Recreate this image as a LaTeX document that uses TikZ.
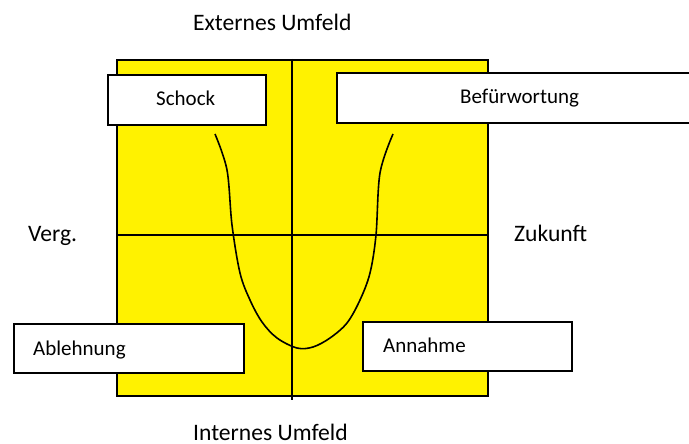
\documentclass[tikz,border=0pt]{standalone}
\usepackage{fontspec}
\setmainfont{Carlito}
\begin{document}
\begin{tikzpicture}[x=1pt,y=-1pt,
  lbl/.style={font=\fontsize{21}{25}\selectfont, inner sep=0pt, anchor=base west},
  biglbl/.style={lbl, font=\fontsize{23.6}{28}\selectfont},
  panel/.style={draw=black, line width=2pt, fill=white, inner sep=0pt, anchor=north west},
  axis/.style={draw=black, line width=1.6pt}]
\useasboundingbox (0,0) rectangle (689,444);
% field
\node[draw=black, line width=2pt, fill=yellow, inner sep=0pt, anchor=north west,
      minimum width=371pt, minimum height=336pt] (field) at (116,59) {};
\coordinate (vtop) at (292,59);
\coordinate (vbot) at (292,400);
\draw[axis] (vtop) -- (vbot);
\draw[axis] (field.west |- 0,235) -- (field.east |- 0,235);
% curve
\draw[line width=1.6pt] plot[smooth, tension=0.55] coordinates
  {(215,134) (227,170) (232,225) (240,273) (250,300) (262,322) (277,338) (297,348)
   (313,347) (330,338) (347,323) (360,300) (370,273) (376,235) (380,173) (393,134)};
% boxes
\node[panel, minimum width=158pt, minimum height=50pt] (schock) at (107,74) {};
\node[panel, minimum width=380pt, minimum height=50pt] (bef) at (336,72) {};
\node[panel, minimum width=230pt, minimum height=49pt] (abl) at (13,323) {};
\node[panel, minimum width=209pt, minimum height=49pt] (ann) at (362,321) {};
% labels
\node[lbl] (tschock) at (156,106) {Schock};
\node[lbl] (tbef) at (460,104) {Befürwortung};
\node[lbl] (tabl) at (33,355) {Ablehnung};
\node[lbl] (tann) at (383,352) {Annahme};
\node[biglbl] (tverg) at (28,241) {Verg.};
\node[biglbl] (tzuk) at (514,241) {Zukunft};
\node[biglbl] (text) at (193,31) {Externes Umfeld};
\node[biglbl] (tint) at (193,440.5) {Internes Umfeld};
\end{tikzpicture}
\end{document}
